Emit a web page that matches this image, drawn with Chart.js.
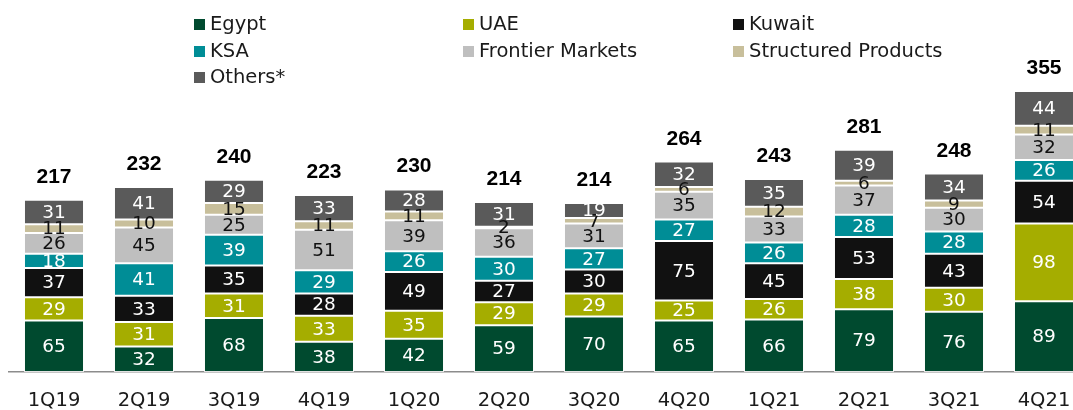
<!DOCTYPE html>
<html>
<head>
<meta charset="utf-8">
<script src="https://cdn.jsdelivr.net/npm/chart.js@4/dist/chart.umd.min.js"></script>
<style>
  html, body { margin: 0; padding: 0; background: #fff; overflow: hidden; width: 1073px; height: 410px; }
  #wrap { position: relative; width: 1073px; height: 410px; overflow: hidden; }
  #c { position: absolute; left: 0; top: 0; }
  .lg { position: absolute; font-family: "DejaVu Sans", sans-serif; font-size: 19.5px; color: #1a1a1a; white-space: nowrap; line-height: 1; }
  .lg .sw { position: absolute; left: 0; width: 11px; height: 11px; }
  .lg .tx { position: absolute; left: 16px; top: 0; transform: translateY(-50%); }
</style>
</head>
<body>
<div id="wrap">
  <canvas id="c" width="1090" height="410"></canvas>
  <div id="legend"></div>
</div>
<script>
// ---- data ----
const categories = ["1Q19","2Q19","3Q19","4Q19","1Q20","2Q20","3Q20","4Q20","1Q21","2Q21","3Q21","4Q21"];
const seriesNames = ["Egypt","UAE","Kuwait","KSA","Frontier Markets","Structured Products","Others*"];
const egypt      = [65, 32, 68, 38, 42, 59, 70, 65, 66, 79, 76, 89];
const uae        = [29, 31, 31, 33, 35, 29, 29, 25, 26, 38, 30, 98];
const kuwait     = [37, 33, 35, 28, 49, 27, 30, 75, 45, 53, 43, 54];
const ksa        = [18, 41, 39, 29, 26, 30, 27, 27, 26, 28, 28, 26];
const frontier   = [26, 45, 25, 51, 39, 36, 31, 35, 33, 37, 30, 32];
const structured = [11, 10, 15, 11, 11,  2,  7,  6, 12,  6,  9, 11];
const others     = [31, 41, 29, 33, 28, 31, 19, 32, 35, 39, 34, 44];
const totals     = [217, 232, 240, 223, 230, 214, 214, 264, 243, 281, 248, 355];

// ---- styles ----
const colors = ["#004a2f", "#a5ad00", "#111111", "#008d96", "#bfbfbf", "#c8bf9b", "#5a5a5a"];
const labelColors = ["#ffffff", "#ffffff", "#ffffff", "#ffffff", "#111111", "#111111", "#ffffff"];
const seriesValues = [egypt, uae, kuwait, ksa, frontier, structured, others];

const datasets = seriesNames.map((name, i) => ({
  label: name,
  data: seriesValues[i],
  backgroundColor: colors[i],
  borderColor: "rgba(255,255,255,0.75)",
  borderWidth: 1,
  borderSkipped: false,
  barPercentage: 0.667,
  categoryPercentage: 1.0
}));

const valueLabels = {
  id: "valueLabels",
  afterDatasetsDraw(chart) {
    const ctx = chart.ctx;
    ctx.save();
    ctx.textAlign = "center";
    ctx.textBaseline = "middle";
    ctx.font = "18.5px 'DejaVu Sans', sans-serif";
    chart.data.datasets.forEach((ds, di) => {
      const meta = chart.getDatasetMeta(di);
      meta.data.forEach((el, i) => {
        const v = ds.data[i];
        const yc = (el.y + el.base) / 2;
        ctx.fillStyle = labelColors[di];
        ctx.fillText(String(v), el.x, yc + 1);
      });
    });
    // totals
    const lastMeta = chart.getDatasetMeta(chart.data.datasets.length - 1);
    ctx.font = "bold 21px 'Liberation Sans', Arial, sans-serif";
    ctx.fillStyle = "#000";
    ctx.textBaseline = "alphabetic";
    lastMeta.data.forEach((el, i) => {
      ctx.fillText(String(totals[i]), el.x, el.y - 17);
    });
    ctx.restore();
  }
};

new Chart(document.getElementById("c"), {
  type: "bar",
  data: { labels: categories, datasets },
  options: {
    responsive: false,
    animation: false,
    devicePixelRatio: 1,
    layout: { padding: { left: 9, right: 1, top: 54.4, bottom: 0 } },
    plugins: { legend: { display: false }, tooltip: { enabled: false } },
    scales: {
      x: {
        stacked: true,
        grid: { display: false, drawTicks: false },
        border: { display: true, color: "#8c8c8c", width: 1.5 },
        ticks: { color: "#1a1a1a", padding: 17, font: { family: "'DejaVu Sans', sans-serif", size: 19.5 } },
        afterFit(scale) { scale.height = 38; }
      },
      y: {
        stacked: true,
        display: false,
        min: 0,
        max: 400
      }
    }
  },
  plugins: [valueLabels]
});

// ---- HTML legend built from series names ----
const legendCols = [194, 463, 733];
const legendRows = [24, 51, 77];
const lg = document.getElementById("legend");
seriesNames.forEach((name, i) => {
  const d = document.createElement("div");
  d.className = "lg";
  d.style.left = legendCols[i % 3] + "px";
  d.style.top = legendRows[Math.floor(i / 3)] + "px";
  d.innerHTML = '<span class="sw" style="background:' + colors[i] + ';top:-5.5px"></span><span class="tx">' + name + '</span>';
  lg.appendChild(d);
});
</script>
</body>
</html>
